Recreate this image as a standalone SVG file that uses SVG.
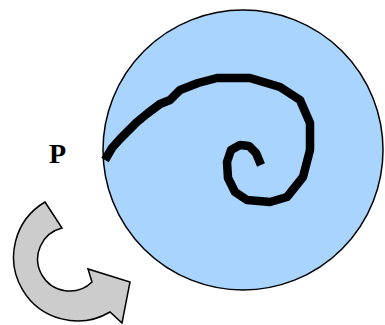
<svg xmlns="http://www.w3.org/2000/svg" width="385" height="325" viewBox="0 0 385 325">
<style>
.label{font-family:"Liberation Serif",serif;font-weight:bold;font-size:28px;fill:#000}
</style>
<rect width="385" height="325" fill="#fff"/>
<g id="disk">
<circle cx="243" cy="150" r="140" fill="#a8d4fe" stroke="#000" stroke-width="1.5"/>
<path d="M105,160 L112,148 L120,139 L128,131 L137,122 L148,113 L160,104 L170,100 L180,90 L198,83 L217,78 L250,78 L280,87 L300,100 L310,123 L310,150 L303,177 L287,197 L270,202 L247,200 L235,192 L228,178 L227,162 L231,150 L240,145 L249,146 L256,153 L261,165" fill="none" stroke="#000" stroke-width="8.5" stroke-linejoin="round"/>
</g>
<g id="label-p"><text class="label" x="49" y="163">P</text></g>
<g id="rotation-arrow">
<path d="M45,202 L62,228 A32,32 0 1 0 92,282 L88,269 L130,282 L122,323 L110,312 A63,63 0 1 1 45,202 Z" fill="#cccccc" stroke="#000" stroke-width="1.5" stroke-linejoin="miter"/>
</g>
</svg>
